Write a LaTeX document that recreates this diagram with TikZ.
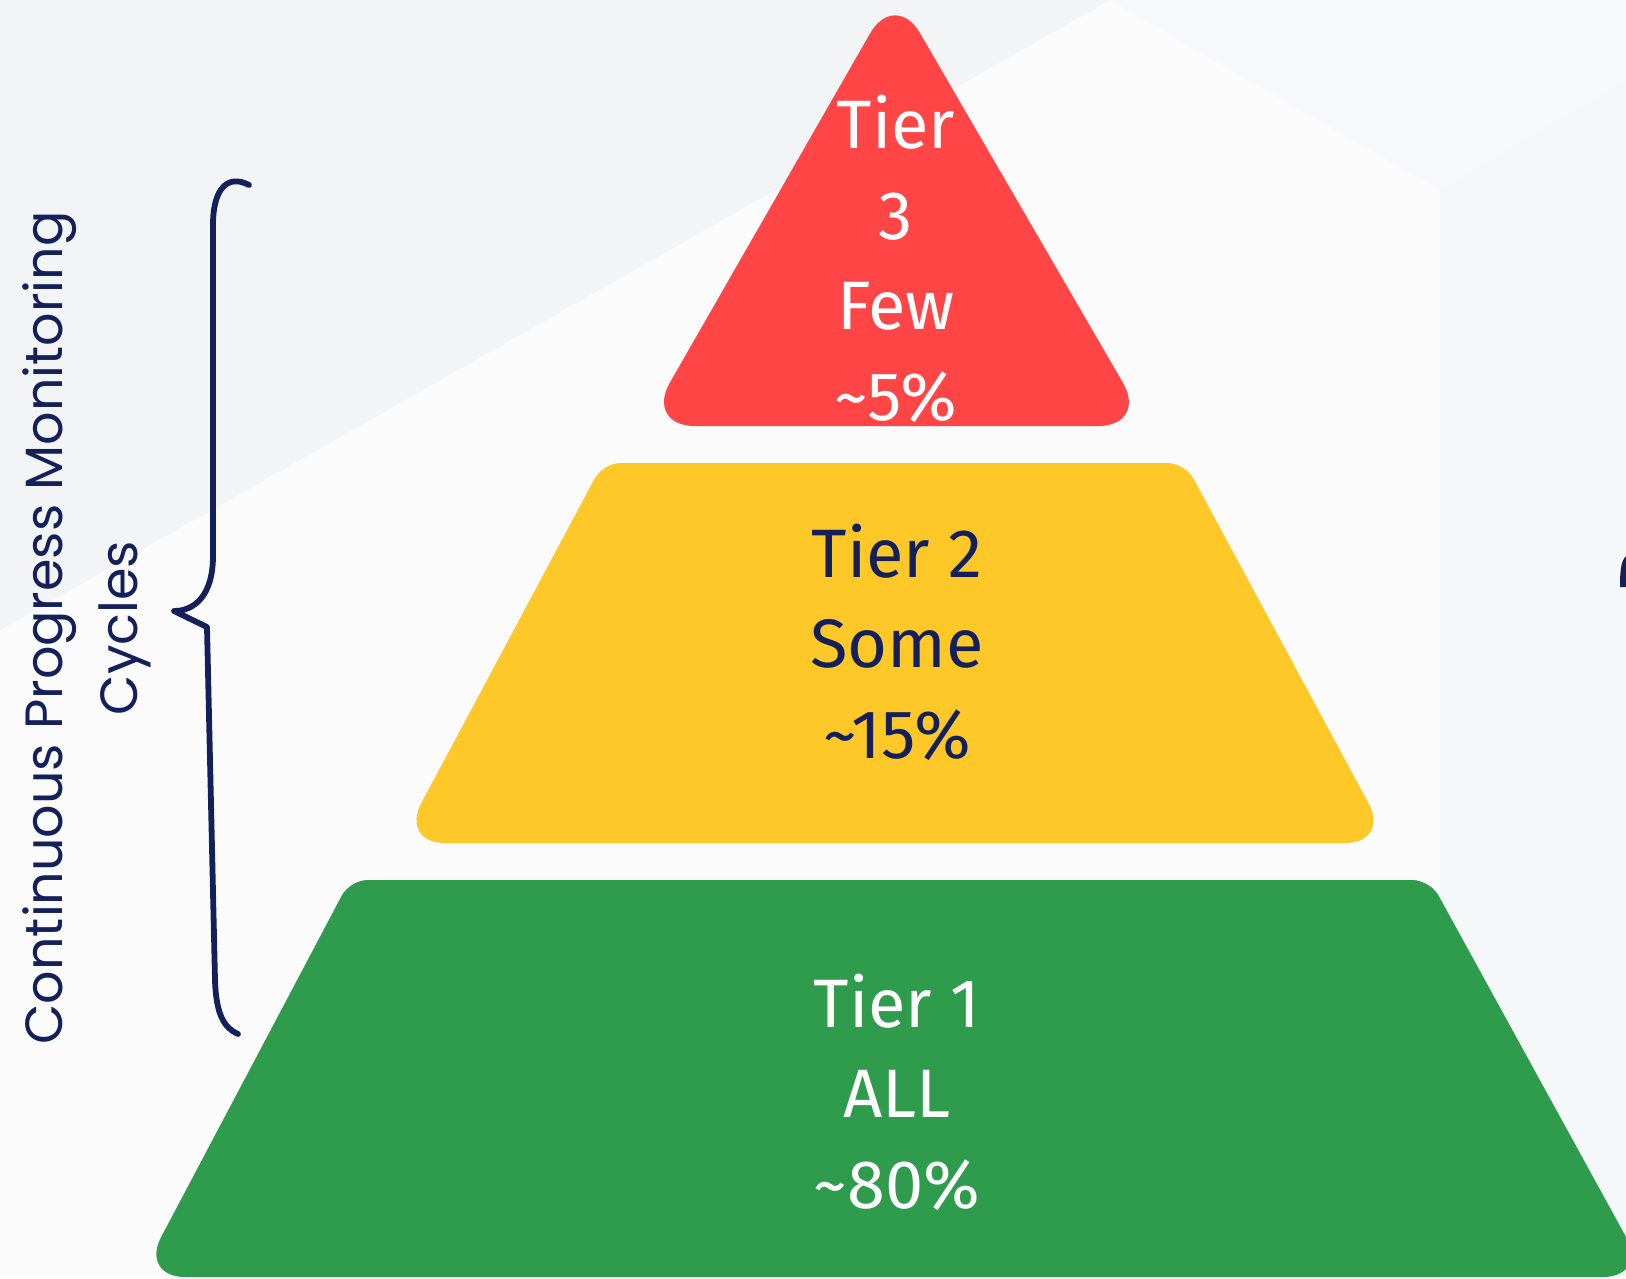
\documentclass[tikz,border=0pt]{standalone}
\usepackage{fontspec}
\setmainfont{Fira Sans}
\newfontfamily\sidefont{Poppins}
\usepackage{tikz}
\usetikzlibrary{positioning}
\definecolor{TierRed}{RGB}{255,69,69}
\definecolor{TierYellow}{RGB}{254,200,40}
\definecolor{TierGreen}{RGB}{47,155,77}
\definecolor{Navy}{RGB}{20,32,90}
\definecolor{BgGray}{RGB}{243,244,246}
\definecolor{BgLight}{RGB}{251,251,252}

\begin{document}
\begin{tikzpicture}[x=0.02cm,y=-0.02cm,
        tiertxt/.style={font=\fontsize{39}{51.6}\selectfont,align=center,inner sep=0pt},
        sidelbl/.style={font=\sidefont\fontsize{29.8}{42.5}\selectfont,color=Navy,
                        align=center,inner sep=0pt,rotate=90},
        brc/.style={draw=Navy,line width=3.3pt,line cap=round,line join=round}
      ]
        % background
        \useasboundingbox (0,0) rectangle (1626,1278);
        \fill[BgLight] (0,0) rectangle (1626,1278);
        \fill[BgGray] (0,0) -- (1110,0) -- (0,630) -- cycle;
        \fill[BgGray!60!BgLight] (1440,190) -- (1626,80) -- (1626,1278) -- (1440,1278) -- cycle;
        \fill[BgGray!50!BgLight] (1110,0) -- (1440,190) -- (1626,80) -- (1626,0) -- cycle;
        \begin{scope}
          \clip (0,0) rectangle (1626,1278);
          % pyramid
          \fill[TierRed,rounded corners=1cm] (895,426) -- (1148,426) -- (895,-10) -- (645,426) -- cycle;
          \fill[TierYellow] (895,843) [rounded corners=0.9cm] -- (1390,843) [rounded corners=0.35cm] -- (1185,463)
                -- (603,463) [rounded corners=0.9cm] -- (400,843) -- cycle;
          \fill[TierGreen] (894,1277) [rounded corners=0.9cm] -- (1648,1277) [rounded corners=0.35cm] -- (1430,880)
                -- (350,880) [rounded corners=0.9cm] -- (140,1277) -- cycle;
          \fill[Navy] (1626,556) .. controls (1621,561) and (1620,570) .. (1620,587) -- (1626,587) -- cycle;
        \end{scope}
        \node[tiertxt,text=white] (t3) at (896,259) {Tier\\3\\Few\\\textasciitilde5\%};
        \node[tiertxt,text=Navy] (t2) at (897,642) {Tier 2\\Some\\\textasciitilde15\%};
        \node[tiertxt,text=white] (t1) at (897,1092) {Tier 1\\ALL\\\textasciitilde80\%};
        % brace and label
        \draw[brc] (249,185) .. controls (228,174) and (213,188) .. (213,225) -- (213,556)
              .. controls (213,596) and (194,611) .. (174,611) -- (207,627) -- (215,980)
              .. controls (216,1014) and (224,1028) .. (238,1034);
        \node[sidelbl] (cycles) at (87,628) {Continuous Progress Monitoring\\Cycles};
      \end{tikzpicture}
\end{document}
